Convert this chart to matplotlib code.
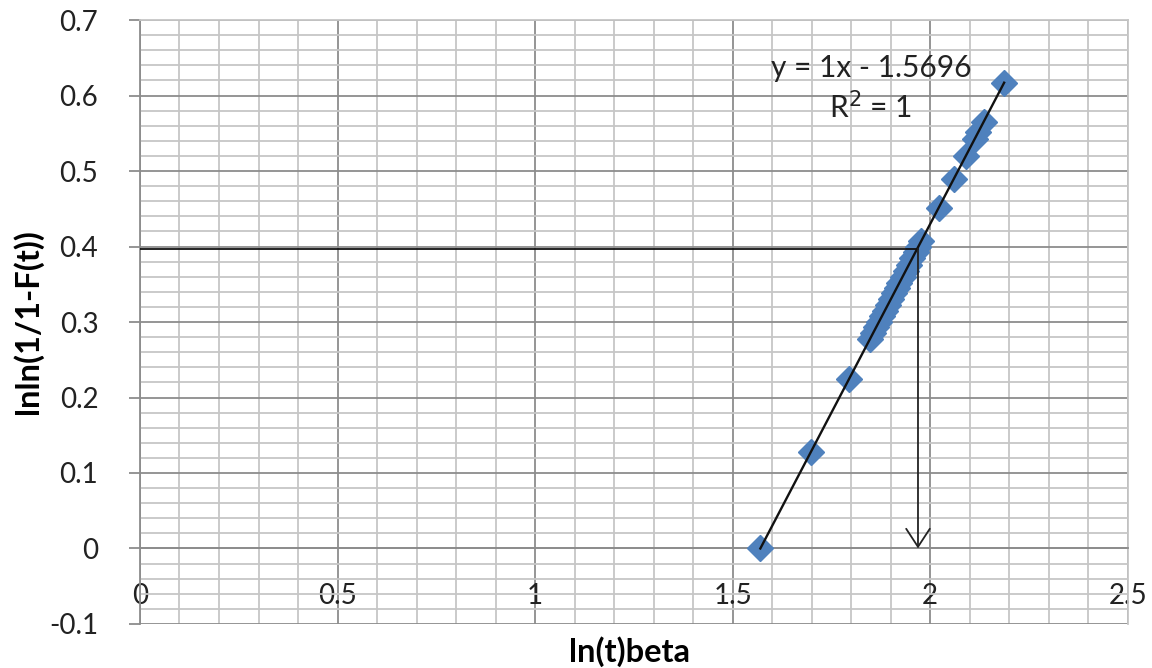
import matplotlib
matplotlib.use("Agg")
import matplotlib.pyplot as plt
import numpy as np
from matplotlib.ticker import MultipleLocator

plt.rcParams['font.family'] = ['Lato', 'DejaVu Sans']

# data
x_vals = [1.570, 1.698, 1.794, 1.848, 1.855, 1.863, 1.870, 1.878, 1.885, 1.892,
          1.900, 1.908, 1.915, 1.922, 1.930, 1.938, 1.946, 1.955, 1.963, 1.970,
          1.977, 2.021, 2.059, 2.090, 2.113, 2.122, 2.135, 2.187]
y_vals = [0.000, 0.128, 0.224, 0.278, 0.285, 0.293, 0.300, 0.308, 0.315, 0.322,
          0.330, 0.338, 0.345, 0.352, 0.360, 0.368, 0.376, 0.385, 0.393, 0.400,
          0.407, 0.451, 0.489, 0.520, 0.543, 0.552, 0.565, 0.617]
equation_text = "y = 1x - 1.5696"
r2_text = "R$^2$ = 1"
read_y = 0.397
read_x = 1.969
x_ticks = [0, 0.5, 1, 1.5, 2, 2.5]
x_tick_labels = ["0", "0.5", "1", "1.5", "2", "2.5"]
y_ticks = [-0.1, 0, 0.1, 0.2, 0.3, 0.4, 0.5, 0.6, 0.7]
y_tick_labels = ["-0.1", "0", "0.1", "0.2", "0.3", "0.4", "0.5", "0.6", "0.7"]

fig = plt.figure(figsize=(11.52, 6.68), dpi=100)
ax = fig.add_axes([0.1215, 0.0659, 0.9790 - 0.1215, 0.970 - 0.0659])

ax.set_xlim(0, 2.5)
ax.set_ylim(-0.1, 0.7)
ax.set_xticks(x_ticks)
ax.set_xticklabels(x_tick_labels)
ax.set_yticks(y_ticks)
ax.set_yticklabels(y_tick_labels)
ax.xaxis.set_minor_locator(MultipleLocator(0.1))
ax.yaxis.set_minor_locator(MultipleLocator(0.02))

major_c = '#8c8c8c'
minor_c = '#c6c6c6'
ax.grid(True, which='major', color=major_c, linewidth=1.3, zorder=0)
ax.grid(True, which='minor', color=minor_c, linewidth=1.3, zorder=0)
ax.set_axisbelow(True)

for s in ['top', 'right']:
    ax.spines[s].set_color(minor_c)
    ax.spines[s].set_linewidth(1.3)
ax.spines['left'].set_color(major_c)
ax.spines['left'].set_linewidth(1.3)
ax.spines['bottom'].set_position(('data', 0))
ax.spines['bottom'].set_color(major_c)
ax.spines['bottom'].set_linewidth(1.3)

ax.tick_params(axis='y', which='major', direction='out', length=8, width=1.3,
               color=major_c, labelsize=20, pad=22, labelcolor='#222222')
ax.tick_params(axis='y', which='minor', length=0)
ax.tick_params(axis='x', which='both', length=0, labelsize=20, pad=25,
               labelcolor='#222222')

# scatter
ax.plot(x_vals, y_vals, linestyle='none', marker='D', markersize=13,
        color='#4F81BD', zorder=3)

# linear trendline
coef = np.polyfit(x_vals, y_vals, 1)
xs = np.array([min(x_vals), max(x_vals)])
ax.plot(xs, np.polyval(coef, xs), color='#111111', linewidth=1.7, zorder=4)

# reading lines
ax.plot([0, read_x], [read_y, read_y], color='#111111', linewidth=1.3, zorder=4)
ax.annotate('', xy=(read_x, 0), xytext=(read_x, read_y),
            arrowprops=dict(arrowstyle='->,head_length=1.3,head_width=0.85',
                            color='#222222', linewidth=1.3, shrinkA=0, shrinkB=0),
            zorder=4)

ax.text(1.850, 0.636, equation_text, fontsize=21.5, ha='center', va='center',
        color='#222222')
ax.text(1.848, 0.585, r2_text, fontsize=21.5, ha='center', va='center',
        color='#222222')

ax.set_xlabel('ln(t)beta', fontsize=23.5, fontweight='bold')
ax.set_ylabel('lnln(1/1-F(t))', fontsize=23.5, fontweight='bold')
ax.xaxis.set_label_coords(0.496, -0.020)
ax.yaxis.set_label_coords(-0.098, 0.50)

fig.savefig('out.png', dpi=100)
